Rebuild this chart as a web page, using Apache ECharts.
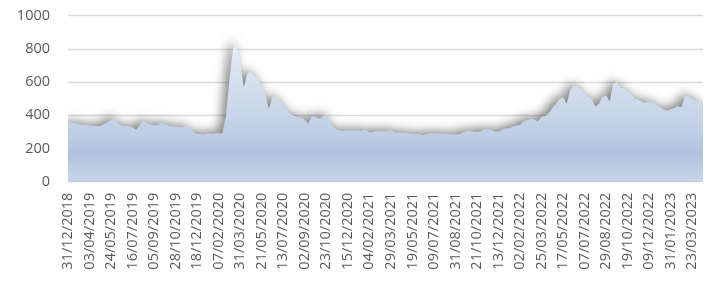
<!DOCTYPE html>
<html>
<head>
<meta charset="utf-8">
<script src="https://cdn.jsdelivr.net/npm/echarts@6/dist/echarts.min.js"></script>
<style>
  html, body { margin: 0; padding: 0; background: #fff; }
  #chart { width: 709px; height: 281px; }
</style>
</head>
<body>
<div id="chart"></div>
<script>
// tick labels shown on the category axis, one every STEP points
const dateLabels = [
  '31/12/2018', '03/04/2019', '24/05/2019', '16/07/2019', '05/09/2019', '28/10/2019',
  '18/12/2019', '07/02/2020', '31/03/2020', '21/05/2020', '13/07/2020', '02/09/2020',
  '23/10/2020', '15/12/2020', '04/02/2021', '29/03/2021', '19/05/2021', '09/07/2021',
  '31/08/2021', '21/10/2021', '13/12/2021', '02/02/2022', '25/03/2022', '17/05/2022',
  '07/07/2022', '29/08/2022', '19/10/2022', '09/12/2022', '31/01/2023', '23/03/2023'
];
const STEP = 6;

// values, STEP points per label gap
const values = [
  360, 357, 350, 346, 344, 343, 338, 336, 334, 336, 347, 360,
  370, 390, 352, 338, 335, 336, 326, 313, 342, 370, 352, 345,
  340, 342, 352, 348, 338, 334, 332, 330, 330, 329, 325, 296,
  288, 287, 286, 290, 289, 291, 293, 290, 395, 620, 800, 845,
  710, 570, 655, 662, 635, 625, 580, 530, 440, 512, 515, 482,
  472, 440, 408, 398, 388, 388, 372, 352, 395, 392, 378, 390,
  410, 365, 330, 314, 308, 307, 309, 306, 308, 305, 307, 316,
  295, 300, 305, 306, 304, 305, 310, 298, 296, 297, 295, 290,
  288, 287, 286, 280, 287, 291, 292, 290, 291, 292, 288, 285,
  284, 286, 295, 305, 306, 302, 300, 303, 318, 316, 312, 302,
  301, 315, 322, 320, 332, 338, 342, 365, 372, 378, 375, 362,
  392, 396, 412, 445, 470, 498, 508, 470, 555, 578, 572, 555,
  534, 510, 495, 455, 470, 512, 518, 485, 592, 600, 568, 565,
  545, 528, 500, 492, 482, 476, 485, 478, 462, 450, 435, 427,
  436, 444, 455, 450, 520, 514, 500, 487, 478, 480
];

const yTicks = [0, 200, 400, 600, 800, 1000];

const categories = values.map((v, i) => (i % STEP === 0 ? (dateLabels[i / STEP] || '') : ''));

const chart = echarts.init(document.getElementById('chart'));
const FONT = 'Open Sans';
chart.setOption({
  animation: false,
  grid: { left: 68, right: 6, top: 15.7, bottom: 99.3 },
  xAxis: {
    type: 'category',
    data: categories,
    boundaryGap: false,
    axisLine: { show: false },
    axisTick: { show: false },
    axisLabel: {
      interval: (idx) => idx % STEP === 0,
      rotate: 90,
      margin: 11,
      color: '#595959',
      fontFamily: FONT,
      fontSize: 14.5
    },
    splitLine: { show: false }
  },
  yAxis: {
    type: 'value',
    min: yTicks[0],
    max: yTicks[yTicks.length - 1],
    interval: 200,
    axisLine: { show: false },
    axisTick: { show: false },
    axisLabel: {
      margin: 18, color: '#595959', fontFamily: FONT, fontSize: 14.5,
      formatter: (v) => String(v)
    },
    splitLine: { lineStyle: { color: '#d9d9d9', width: 1.3 } }
  },
  series: [{
    type: 'line',
    data: values,
    symbol: 'none',
    lineStyle: { width: 0 },
    areaStyle: {
      opacity: 1,
      color: new echarts.graphic.LinearGradient(0, 0, 0, 1, [
        { offset: 0, color: '#e6edf6' },
        { offset: 0.33, color: '#d2deed' },
        { offset: 0.64, color: '#bfcfe6' },
        { offset: 0.8, color: '#afc3df' },
        { offset: 1, color: '#c8d6ea' }
      ]),
      shadowColor: 'rgba(0,0,0,0.5)',
      shadowBlur: 11,
      shadowOffsetX: -4,
      shadowOffsetY: -2
    }
  }]
});
</script>
</body>
</html>
